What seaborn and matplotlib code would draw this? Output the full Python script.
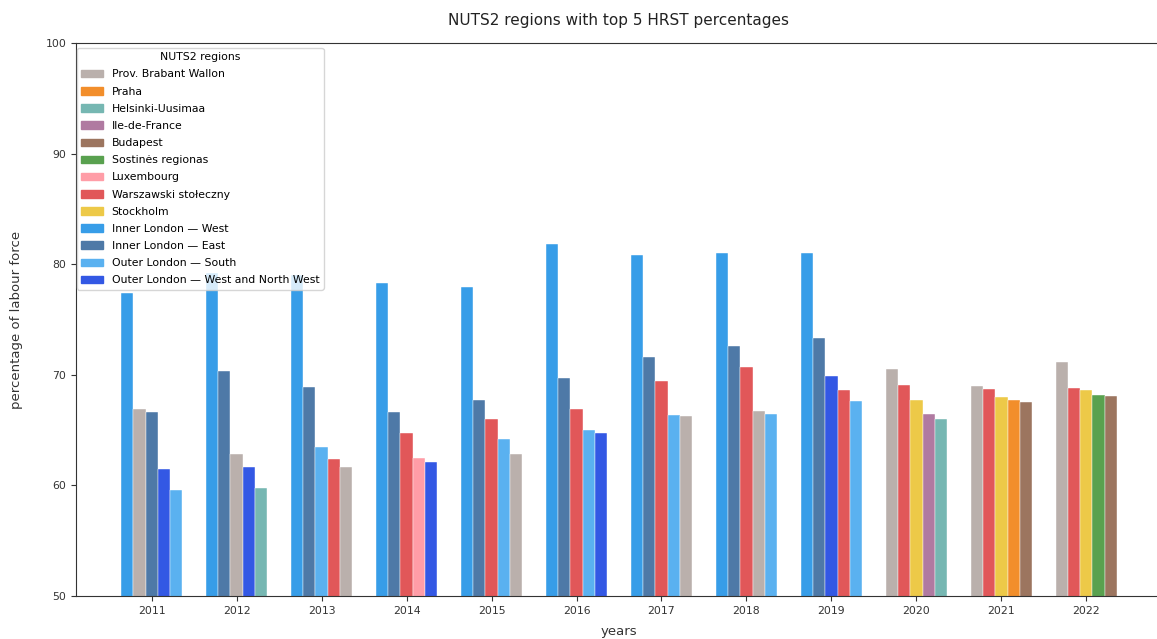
import matplotlib
matplotlib.use("Agg")
import matplotlib.pyplot as plt
import matplotlib.patches as mpatches
import seaborn as sns
import pandas as pd
import numpy as np

years = [2011, 2012, 2013, 2014, 2015, 2016, 2017, 2018, 2019, 2020, 2021, 2022]
N = None

brabant_wallon = [66.9, 62.8, 61.7, N, 62.8, N, 66.3, 66.7, N, 70.5, 69.0, 71.2]
praha = [N, N, N, N, N, N, N, N, N, N, 67.7, N]
helsinki = [N, 59.8, N, N, N, N, N, N, N, 66.0, N, N]
ile_de_france = [N, N, N, N, N, N, N, N, N, 66.5, N, N]
budapest = [N, N, N, N, N, N, N, N, N, N, 67.5, 68.1]
sostines = [N, N, N, N, N, N, N, N, N, N, N, 68.15]
luxembourg = [N, N, N, 62.5, N, N, N, N, N, N, N, N]
warszawski = [N, N, 62.4, 64.7, 66.0, 66.9, 69.4, 70.7, 68.6, 69.1, 68.7, 68.8]
stockholm = [N, N, N, N, N, N, N, N, N, 67.7, 68.0, 68.6]
inner_london_west = [77.4, 79.2, 79.0, 78.3, 77.9, 81.8, 80.8, 81.0, 81.0, N, N, N]
inner_london_east = [66.6, 70.3, 68.9, 66.6, 67.7, 69.7, 71.6, 72.6, 73.3, N, N, N]
outer_london_south = [59.6, N, 63.5, N, 64.2, 65.0, 66.4, 66.5, 67.6, N, N, N]
outer_london_wnw = [61.5, 61.7, N, 62.1, N, 64.7, N, N, 69.9, N, N, N]

region_names = ["Prov. Brabant Wallon", "Praha", "Helsinki-Uusimaa", "Ile-de-France",
                "Budapest", "Sostinės regionas", "Luxembourg", "Warszawski stołeczny",
                "Stockholm", "Inner London — West", "Inner London — East",
                "Outer London — South", "Outer London — West and North West"]
region_series = [brabant_wallon, praha, helsinki, ile_de_france, budapest, sostines,
                 luxembourg, warszawski, stockholm, inner_london_west, inner_london_east,
                 outer_london_south, outer_london_wnw]
region_colors = ["#bab0ac", "#f28e2b", "#76b7b2", "#b07aa1", "#9c755f", "#59a14f",
                 "#ff9da7", "#e15759", "#edc948", "#379de8", "#4e79a7", "#5ab1f0", "#3358e4"]
color_of = dict(zip(region_names, region_colors))

rows = []
for yi, yr in enumerate(years):
    entries = [(name, s[yi]) for name, s in zip(region_names, region_series) if s[yi] is not None]
    entries.sort(key=lambda e: -e[1])
    for rank, (name, v) in enumerate(entries):
        rows.append({"year": str(yr), "rank": rank, "region": name, "value": v})
df = pd.DataFrame(rows)

fig = plt.figure(figsize=(11.57, 6.39), dpi=100)
ax = fig.add_axes([76 / 1157, 1 - 596 / 639, (1162 - 76) / 1157, (596 - 43) / 639])

sns.barplot(data=df, x="year", y="value", hue="rank", dodge=True, width=0.72,
            palette=["#888888"] * 5, legend=False, ax=ax, linewidth=0, saturation=1)

for r, cont in enumerate(ax.containers):
    sub = df[df["rank"] == r].set_index("year")
    for yr, bar in zip(years, cont):
        reg = sub.loc[str(yr), "region"]
        bar.set_facecolor(color_of[reg])
        bar.set_edgecolor("white")
        bar.set_linewidth(0.3)

ax.set_ylim(50, 100)
ax.set_yticks([50, 60, 70, 80, 90, 100])
ax.set_xlim(-0.89, 11.89)
ax.spines["right"].set_visible(False)
for s in ["left", "bottom", "top"]:
    ax.spines[s].set_color("#333333")
ax.tick_params(labelsize=7.8, colors="#333333", length=3.5)
ax.set_xlabel("years", fontsize=9.5, color="#333333", labelpad=7)
ax.set_ylabel("percentage of labour force", fontsize=9.5, color="#333333", labelpad=16)
ax.set_title("NUTS2 regions with top 5 HRST percentages", fontsize=11, pad=13, color="#222222")

handles = [mpatches.Patch(color=c, label=n) for n, c in zip(region_names, region_colors)]
ax.legend(handles=handles, title="NUTS2 regions", loc="upper left", fontsize=7.8,
          title_fontsize=7.8, framealpha=0.8,
          bbox_to_anchor=(1 / 1086, 1 - 5 / 553), borderaxespad=0,
          labelspacing=0.66)

fig.savefig("out.png", dpi=100)
